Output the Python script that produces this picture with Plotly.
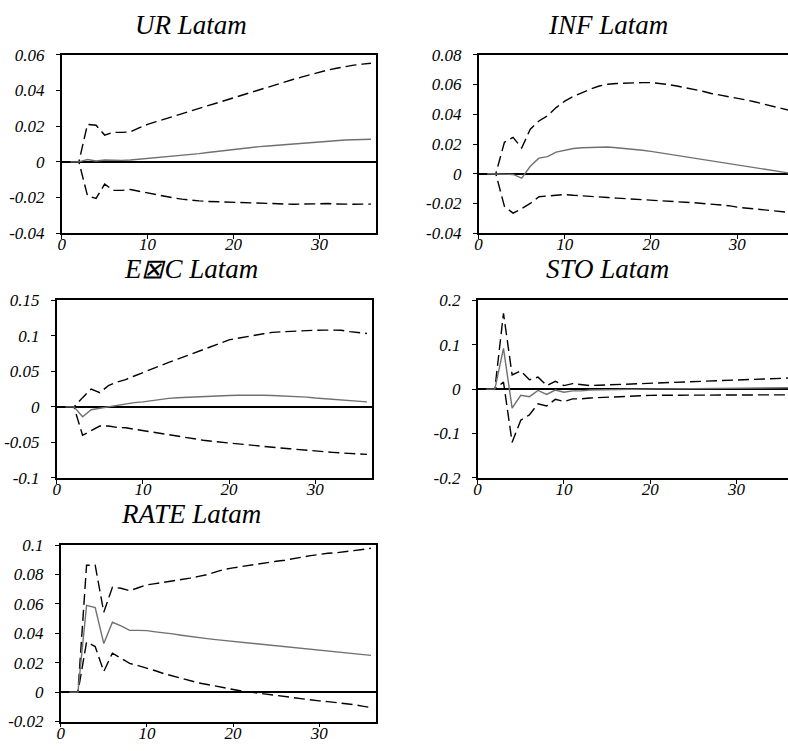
import plotly.graph_objects as go

periods = list(range(1, 37))

titles = ["UR Latam", "INF Latam", "E\u22a0C Latam", "STO Latam", "RATE Latam"]

ur_mid = [0, 0, 0.0013, 0.0005, 0.001, 0.0008, 0.0008, 0.001, 0.0014, 0.0018,
          0.0022, 0.0026, 0.003, 0.0035, 0.004, 0.0046, 0.0052, 0.0058, 0.0064, 0.007,
          0.0075, 0.008, 0.0085, 0.0089, 0.0093, 0.0097, 0.0101, 0.0105, 0.0109, 0.0113,
          0.0116, 0.0119, 0.0122, 0.0124, 0.0126, 0.0127]
ur_up = [0, 0, 0.021, 0.0205, 0.015, 0.0165, 0.0165, 0.0168, 0.019, 0.021,
         0.0225, 0.024, 0.0255, 0.027, 0.0285, 0.030, 0.0315, 0.033, 0.0347, 0.0362,
         0.0376, 0.039, 0.0405, 0.042, 0.0435, 0.045, 0.0463, 0.0476, 0.049, 0.0503,
         0.0515, 0.0525, 0.0535, 0.0542, 0.0548, 0.0553]
ur_lo = [0, 0, -0.019, -0.0205, -0.0125, -0.016, -0.016, -0.0155, -0.0165, -0.0175,
         -0.0185, -0.0195, -0.0202, -0.0209, -0.0215, -0.0219, -0.0222, -0.0224, -0.0226, -0.0228,
         -0.023, -0.0232, -0.0234, -0.0235, -0.0236, -0.0237, -0.0238, -0.0237, -0.0235, -0.0233,
         -0.0234, -0.0236, -0.0238, -0.0238, -0.0237, -0.0237]

inf_mid = [0, 0, 0, -0.0005, -0.003, 0.005, 0.0105, 0.0115, 0.0145, 0.016,
           0.017, 0.0175, 0.0178, 0.018, 0.018, 0.0175, 0.017, 0.0165, 0.0158, 0.015,
           0.0141, 0.0132, 0.0123, 0.0114, 0.0105, 0.0096, 0.0087, 0.0078, 0.0068, 0.0058,
           0.0048, 0.0038, 0.003, 0.0021, 0.0013, 0.0005]
inf_up = [0, 0, 0.0212, 0.0245, 0.0173, 0.030, 0.0355, 0.039, 0.0445, 0.0488,
          0.052, 0.0547, 0.057, 0.059, 0.0602, 0.0607, 0.061, 0.0612, 0.0613, 0.0613,
          0.0608, 0.060, 0.059, 0.058, 0.057, 0.0555, 0.054, 0.053, 0.052, 0.051,
          0.0497, 0.0484, 0.047, 0.0458, 0.0445, 0.0427]
inf_lo = [0, 0, -0.022, -0.0265, -0.0235, -0.02, -0.0155, -0.015, -0.014, -0.014,
          -0.0145, -0.015, -0.0154, -0.0157, -0.016, -0.0164, -0.0168, -0.0172, -0.0176, -0.018,
          -0.0183, -0.0186, -0.0189, -0.0192, -0.0195, -0.0199, -0.0204, -0.0209, -0.0215, -0.0225,
          -0.0231, -0.0237, -0.0243, -0.0249, -0.0255, -0.026]

exc_mid = [0, 0, -0.014, -0.004, -0.002, 0, 0.002, 0.005, 0.006, 0.007,
           0.009, 0.011, 0.012, 0.0128, 0.0135, 0.0142, 0.0148, 0.0153, 0.0157, 0.016,
           0.0163, 0.0165, 0.0165, 0.0163, 0.016, 0.0156, 0.0151, 0.0145, 0.0138, 0.0125,
           0.0116, 0.0107, 0.0097, 0.0088, 0.0079, 0.007]
exc_up = [0, 0, 0.013, 0.0252, 0.020, 0.030, 0.035, 0.0385, 0.0435, 0.0486,
          0.053, 0.058, 0.0626, 0.067, 0.0716, 0.0762, 0.0806, 0.085, 0.0898, 0.0945,
          0.097, 0.099, 0.101, 0.103, 0.105, 0.1058, 0.1066, 0.1073, 0.1077, 0.108,
          0.1082, 0.1083, 0.108, 0.106, 0.105, 0.1035]
exc_lo = [0, 0, -0.040, -0.034, -0.027, -0.027, -0.029, -0.0295, -0.0315, -0.0335,
          -0.0358, -0.038, -0.040, -0.042, -0.044, -0.0455, -0.047, -0.0485, -0.0498, -0.051,
          -0.0522, -0.0534, -0.0546, -0.0558, -0.057, -0.058, -0.059, -0.0602, -0.0614, -0.0625,
          -0.0633, -0.0641, -0.0649, -0.0657, -0.0664, -0.067]

sto_mid = [0, 0, 0.092, -0.043, -0.014, -0.017, -0.003, -0.012, -0.002, -0.007,
           -0.004, -0.004, -0.002, -0.0015, -0.001, -0.0007, -0.0004, -0.0001, 0.0002, 0.0005,
           0.0006, 0.0007, 0.0008, 0.0009, 0.001, 0.0012, 0.0014, 0.0016, 0.0018, 0.002,
           0.0022, 0.0024, 0.0026, 0.0028, 0.0029, 0.003]
sto_up = [0, 0, 0.171, 0.032, 0.041, 0.021, 0.027, 0.008, 0.0176, 0.008,
          0.0125, 0.0095, 0.008, 0.0088, 0.0095, 0.0104, 0.0113, 0.0122, 0.0131, 0.014,
          0.0147, 0.0154, 0.0161, 0.0168, 0.0175, 0.0182, 0.0189, 0.0196, 0.0203, 0.021,
          0.0217, 0.0224, 0.0231, 0.0238, 0.0244, 0.025]
sto_lo = [0, 0, 0.016, -0.120, -0.070, -0.058, -0.033, -0.038, -0.023, -0.028,
          -0.022, -0.022, -0.020, -0.019, -0.018, -0.0172, -0.0164, -0.0156, -0.0148, -0.014,
          -0.0138, -0.0136, -0.0134, -0.0132, -0.013, -0.013, -0.013, -0.013, -0.013, -0.013,
          -0.013, -0.013, -0.013, -0.013, -0.013, -0.013]

rate_mid = [0, 0, 0.059, 0.0575, 0.033, 0.0475, 0.045, 0.042, 0.042, 0.0418,
            0.041, 0.0405, 0.0396, 0.0387, 0.0378, 0.0371, 0.0364, 0.0357, 0.0351, 0.0345,
            0.034, 0.0334, 0.0329, 0.0323, 0.0318, 0.0312, 0.0307, 0.0301, 0.0296, 0.029,
            0.0283, 0.0277, 0.027, 0.0263, 0.0257, 0.025]
rate_up = [0, 0, 0.0863, 0.0863, 0.0543, 0.0713, 0.0706, 0.069, 0.071, 0.073,
           0.0738, 0.0746, 0.0755, 0.0765, 0.0775, 0.0787, 0.0799, 0.0818, 0.0835, 0.0845,
           0.0855, 0.0863, 0.0871, 0.0883, 0.089, 0.0897, 0.0905, 0.0918, 0.0928, 0.0938,
           0.0944, 0.0948, 0.0953, 0.0962, 0.097, 0.0978]
rate_lo = [0, 0, 0.034, 0.031, 0.014, 0.0265, 0.023, 0.0195, 0.018, 0.0165,
           0.0145, 0.0125, 0.011, 0.009, 0.0075, 0.0063, 0.0052, 0.004, 0.0027, 0.0015,
           0.0007, 0.0, -0.0008, -0.0017, -0.0025, -0.0032, -0.0039, -0.0045, -0.0053, -0.006,
           -0.0065, -0.007, -0.0075, -0.0085, -0.0095, -0.0105]

mids = [ur_mid, inf_mid, exc_mid, sto_mid, rate_mid]
ups = [ur_up, inf_up, exc_up, sto_up, rate_up]
los = [ur_lo, inf_lo, exc_lo, sto_lo, rate_lo]

y_ticks = [
    [-0.04, -0.02, 0, 0.02, 0.04, 0.06],
    [-0.04, -0.02, 0, 0.02, 0.04, 0.06, 0.08],
    [-0.1, -0.05, 0, 0.05, 0.1, 0.15],
    [-0.2, -0.1, 0, 0.1, 0.2],
    [-0.02, 0, 0.02, 0.04, 0.06, 0.08, 0.1],
]
y_ticktext = [
    ["-0.04", "-0.02", "0", "0.02", "0.04", "0.06"],
    ["-0.04", "-0.02", "0", "0.02", "0.04", "0.06", "0.08"],
    ["-0.1", "-0.05", "0", "0.05", "0.1", "0.15"],
    ["-0.2", "-0.1", "0", "0.1", "0.2"],
    ["-0.02", "0", "0.02", "0.04", "0.06", "0.08", "0.1"],
]
x_ticks = [0, 10, 20, 30]
x_ticktext = ["0", "10", "20", "30"]

W, H = 788, 751
# pixel boxes (left, right, top, bottom)
boxes = [
    (58, 374, 47, 230),
    (477, 788, 47, 230),
    (53, 370, 299, 481),
    (476, 788, 299, 481),
    (57, 374, 550, 731),
]
x_max = [36.6, 35.9, 36.6, 35.95, 36.6]
title_x = [188, 607, 188, 607, 188]
title_y = [16, 16, 267, 267, 518]

FONT = "Liberation Serif"
TICKFONT = dict(family=FONT, size=17, style="italic", color="black")
fig = go.Figure()
layout = dict(
    width=W, height=H, margin=dict(l=0, r=0, t=0, b=0),
    paper_bgcolor="white", plot_bgcolor="white", showlegend=False,
    font=dict(family=FONT, color="black"),
)
annotations = []
for i in range(5):
    n = "" if i == 0 else str(i + 1)
    xa, ya = "x" + n, "y" + n
    l, r, t, b = boxes[i]
    right_panel = r >= W
    layout["xaxis" + n] = dict(
        domain=[l / W, r / W], range=[0, x_max[i]], anchor=ya,
        tickvals=x_ticks, ticktext=x_ticktext, ticks="outside", ticklen=4,
        tickwidth=1.2, tickcolor="black", ticklabelstandoff=-9,
        showline=True, linecolor="black", linewidth=1.5, mirror=True,
        showgrid=False, zeroline=False, tickfont=TICKFONT,
    )
    layout["yaxis" + n] = dict(
        domain=[1 - b / H, 1 - t / H], range=[y_ticks[i][0], y_ticks[i][-1]], anchor=xa,
        tickvals=y_ticks[i], ticktext=y_ticktext[i], ticks="outside", ticklen=4,
        tickwidth=1.2, tickcolor="black", ticklabelstandoff=8,
        showline=True, linecolor="black", linewidth=1.5, mirror=(not right_panel),
        showgrid=False, zeroline=True, zerolinecolor="black", zerolinewidth=1.6,
        tickfont=TICKFONT,
    )
    fig.add_trace(go.Scatter(x=periods, y=ups[i], mode="lines", xaxis=xa, yaxis=ya,
                             line=dict(color="black", width=1.4, dash="11px,5px")))
    fig.add_trace(go.Scatter(x=periods, y=los[i], mode="lines", xaxis=xa, yaxis=ya,
                             line=dict(color="black", width=1.4, dash="11px,5px")))
    fig.add_trace(go.Scatter(x=periods, y=mids[i], mode="lines", xaxis=xa, yaxis=ya,
                             line=dict(color="#707070", width=1.4)))
    annotations.append(dict(
        text=titles[i], x=title_x[i] / W, y=1 - title_y[i] / H,
        xref="paper", yref="paper", xanchor="center", yanchor="middle", showarrow=False,
        font=dict(family=FONT, size=27, style="italic", color="black"),
    ))
layout["annotations"] = annotations
fig.update_layout(**layout)
fig.write_html("out.html")
